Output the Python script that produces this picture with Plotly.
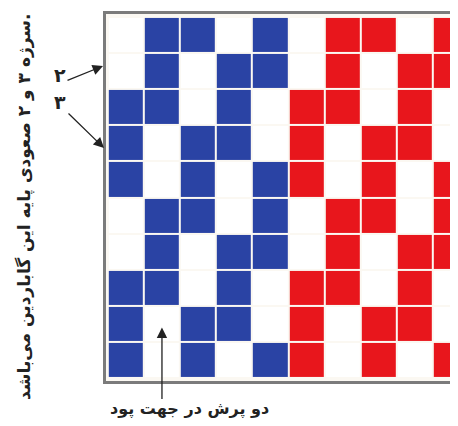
import plotly.graph_objects as go

# 3/2 twill repeat, 1 = warp up (coloured), 0 = weft (white)
repeat_rows = [
    [0, 1, 1, 0, 1],
    [0, 1, 0, 1, 1],
    [1, 1, 0, 1, 0],
    [1, 0, 1, 1, 0],
    [1, 0, 1, 0, 1],
]
n_rows = 10
n_cols = 10
blue_cols = 5  # left half blue, right half red

side_text = "سرژه ۳ و ۲ صعودی پایه این گاباردین می‌باشد."
bottom_text = "دو پرش در جهت پود"
label_2 = "۲"
label_3 = "۳"

# 0 white, 1 blue, 2 red
z = []
for r in range(n_rows):
    row = []
    for c in range(n_cols):
        v = repeat_rows[r % 5][c % 5]
        if v == 0:
            row.append(0)
        else:
            row.append(1 if c < blue_cols else 2)
    z.append(row)

colorscale = [
    [0.0, "#ffffff"], [0.333, "#ffffff"],
    [0.333, "#2a43a4"], [0.667, "#2a43a4"],
    [0.667, "#e8161c"], [1.0, "#e8161c"],
]

fig = go.Figure(go.Heatmap(
    z=z,
    x=list(range(n_cols)),
    y=list(range(n_rows)),
    colorscale=colorscale,
    zmin=0, zmax=2,
    showscale=False,
    xgap=2, ygap=2,
    hoverinfo="skip",
))

font = "DejaVu Sans"

# page has an 8px body margin, keep the figure inside the window (no scrollbars)
W, H = 450, 410
L, R, T, B = 98, 0, 6, 37
pw, ph = W - L - R, H - T - B


def paper(xp, yp):
    # page pixel -> paper coords
    return (xp - 8 - L) / pw, (H - B - (yp - 8)) / ph


fig.update_layout(
    width=W, height=H,
    margin=dict(l=L, r=R, t=T, b=B),
    paper_bgcolor="white",
    plot_bgcolor="#fbf8f2",
    showlegend=False,
    xaxis=dict(range=[-0.55, 9.2], showgrid=False, zeroline=False,
               showticklabels=False, ticks="", showline=True,
               linecolor="#7b7b7b", linewidth=3, mirror=True),
    yaxis=dict(range=[9.58, -0.58], showgrid=False, zeroline=False,
               showticklabels=False, ticks="", showline=True,
               linecolor="#7b7b7b", linewidth=3, mirror=False),
)

arrow = dict(showarrow=True, text="", arrowhead=2, arrowsize=1.6,
             arrowwidth=1.3, arrowcolor="#222")
label = dict(xref="paper", yref="paper", xanchor="center", yanchor="middle",
             showarrow=False)

# left side labels with arrows
x, y = paper(103, 66)
fig.add_annotation(x=x, y=y, xref="paper", yref="paper", ax=-37, ay=15, **arrow)
x, y = paper(104, 148)
fig.add_annotation(x=x, y=y, xref="paper", yref="paper", ax=-37, ay=-36, **arrow)
x, y = paper(60, 75)
fig.add_annotation(x=x, y=y, text="<b>" + label_2 + "</b>",
                   font=dict(family=font, size=19, color="#222"), **label)
x, y = paper(60, 102)
fig.add_annotation(x=x, y=y, text="<b>" + label_3 + "</b>",
                   font=dict(family=font, size=19, color="#222"), **label)

# bottom arrow into the weft float
fig.add_annotation(x=1, y=8.1, xref="x", yref="y", ax=0, ay=73, **arrow)
x, y = paper(189, 409)
fig.add_annotation(x=x, y=y, text="<b>" + bottom_text + "</b>",
                   font=dict(family=font, size=16, color="#222"), **label)

# rotated caption on the left
x, y = paper(24, 207)
fig.add_annotation(x=x, y=y, text="<b>" + side_text + "</b>", textangle=-90,
                   font=dict(family=font, size=17, color="#222"), **label)

fig.write_html("out.html")
